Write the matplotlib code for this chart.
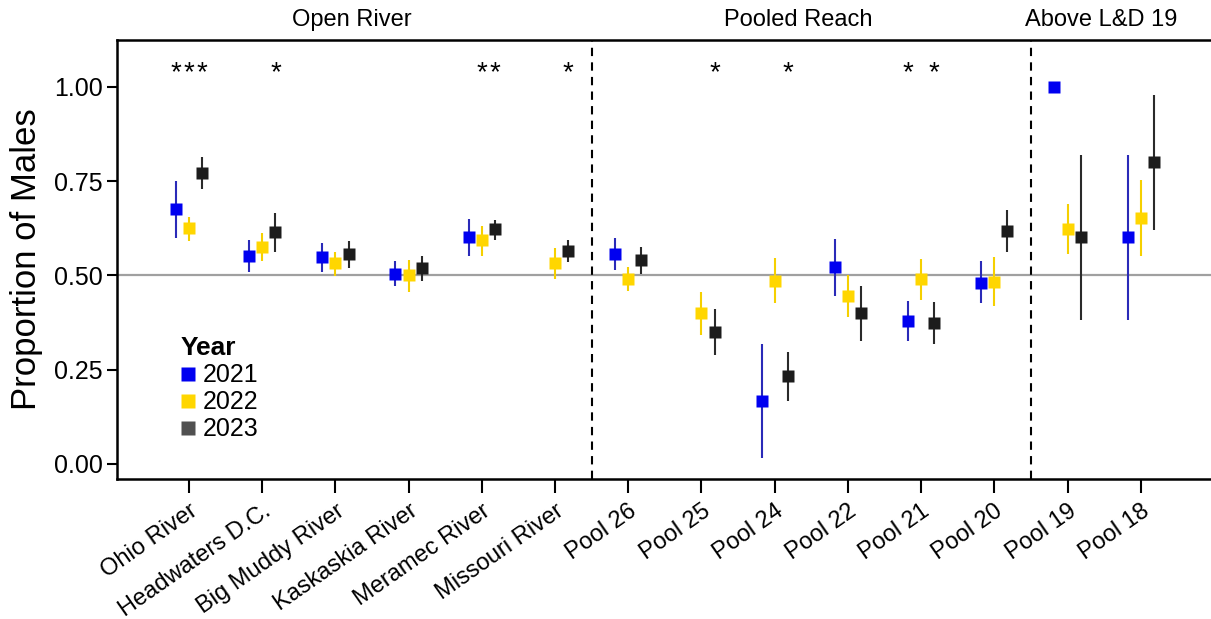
import numpy as np
import matplotlib
matplotlib.use('Agg')
import matplotlib.pyplot as plt
from matplotlib.lines import Line2D
from matplotlib import transforms

plt.rcParams['font.family'] = ['Liberation Sans', 'DejaVu Sans']

sites = ['Ohio River', 'Headwaters D.C.', 'Big Muddy River', 'Kaskaskia River',
         'Meramec River', 'Missouri River', 'Pool 26', 'Pool 25', 'Pool 24',
         'Pool 22', 'Pool 21', 'Pool 20', 'Pool 19', 'Pool 18']
years = ['2021', '2022', '2023']
nan = np.nan

p2021 = [0.676, 0.550, 0.549, 0.504, 0.601, nan, 0.557, nan, 0.168, 0.523, 0.380, 0.481, 1.000, 0.601]
lo2021 = [0.600, 0.508, 0.510, 0.471, 0.550, nan, 0.513, nan, 0.015, 0.446, 0.326, 0.426, 1.000, 0.382]
hi2021 = [0.750, 0.593, 0.585, 0.538, 0.649, nan, 0.600, nan, 0.318, 0.597, 0.431, 0.537, 1.000, 0.818]

p2022 = [0.625, 0.576, 0.532, 0.501, 0.594, 0.532, 0.491, 0.401, 0.486, 0.446, 0.489, 0.483, 0.624, 0.653]
lo2022 = [0.591, 0.538, 0.499, 0.457, 0.551, 0.490, 0.459, 0.341, 0.426, 0.390, 0.435, 0.419, 0.556, 0.551]
hi2022 = [0.656, 0.613, 0.563, 0.542, 0.631, 0.573, 0.523, 0.457, 0.545, 0.501, 0.543, 0.548, 0.689, 0.752]

p2023 = [0.772, 0.614, 0.556, 0.519, 0.623, 0.565, 0.540, 0.351, 0.233, 0.401, 0.374, 0.618, 0.601, 0.800]
lo2023 = [0.729, 0.561, 0.519, 0.486, 0.594, 0.535, 0.503, 0.288, 0.168, 0.326, 0.317, 0.562, 0.382, 0.620]
hi2023 = [0.813, 0.664, 0.591, 0.550, 0.647, 0.593, 0.574, 0.411, 0.296, 0.473, 0.428, 0.673, 0.818, 0.978]

# significance stars drawn above each year's point
sig2021 = [1, 0, 0, 0, 0, 0, 0, 0, 0, 0, 1, 0, 0, 0]
sig2022 = [1, 0, 0, 0, 1, 0, 0, 0, 0, 0, 0, 0, 0, 0]
sig2023 = [1, 1, 0, 0, 1, 1, 0, 1, 1, 0, 1, 0, 0, 0]

groups = ['Open River', 'Pooled Reach', 'Above L&D 19']
group_x = [2.23, 8.32, 12.46]
group_breaks = [5.5, 11.5]

cols = ['#0000f0', '#ffd600', '#1c1c1c']
barcols = ['#2a2ab8', '#f5d000', '#2a2a2a']
legcols = ['#0000f0', '#ffd600', '#505050']
offsets = [-0.18, 0.0, 0.18]

fig = plt.figure(figsize=(12.11, 6.19), dpi=100)
ax = fig.add_axes([117/1211, 1-479/619, 1-117/1211, 439/619])

x = np.arange(len(sites))
ax.axhline(0.5, color='#a0a0a0', lw=1.6, zorder=1)
for b in group_breaks:
    ax.axvline(b, color='black', lw=1.5, ls=(0, (4, 3)), zorder=1)

series = [(p2021, lo2021, hi2021, sig2021), (p2022, lo2022, hi2022, sig2022), (p2023, lo2023, hi2023, sig2023)]
for i, (p, lo, hi, sig) in enumerate(series):
    p = np.array(p); lo = np.array(lo); hi = np.array(hi)
    xs = x + offsets[i]
    ax.vlines(xs, lo, hi, color=barcols[i], lw=1.5, zorder=2)
    ax.plot(xs, p, 's', color=cols[i], ms=9, mec='none', zorder=3)
    for j in range(len(sites)):
        if sig[j]:
            ax.text(xs[j], 1.035, '*', ha='center', va='center', fontsize=20)

trans = transforms.blended_transform_factory(ax.transData, ax.transAxes)
for g, gx in zip(groups, group_x):
    ax.text(gx, 1.046, g, transform=trans, ha='center', va='center', fontsize=17)

ax.set_xlim(-0.984, 13.96)
ax.set_ylim(-0.04, 1.124)
ax.set_xticks(x)
ax.set_xticklabels(sites, rotation=35, ha='right', rotation_mode='anchor', fontsize=17)
ax.set_yticks([0, 0.25, 0.5, 0.75, 1.0])
ax.set_yticklabels(['0.00', '0.25', '0.50', '0.75', '1.00'], fontsize=18)
ax.tick_params(axis='x', length=10, width=1.5, pad=5)
ax.tick_params(axis='y', length=7, width=1.5, pad=3)
ax.set_ylabel('Proportion of Males', fontsize=25, labelpad=8)

for s in ['left', 'bottom', 'top']:
    ax.spines[s].set_linewidth(1.8)
ax.spines['right'].set_visible(False)

handles = [Line2D([0], [0], marker='s', ls='none', color=c, ms=10, mec='none') for c in legcols]
leg = ax.legend(handles, years, title='Year', loc='upper left', bbox_to_anchor=(0.042, 0.365),
                frameon=False, fontsize=18, handlelength=0.6, handletextpad=0.3,
                labelspacing=0.12, borderpad=0.2, alignment='left',
                title_fontproperties={'weight': 'bold', 'size': 19})

fig.savefig('out.png', dpi=100)
